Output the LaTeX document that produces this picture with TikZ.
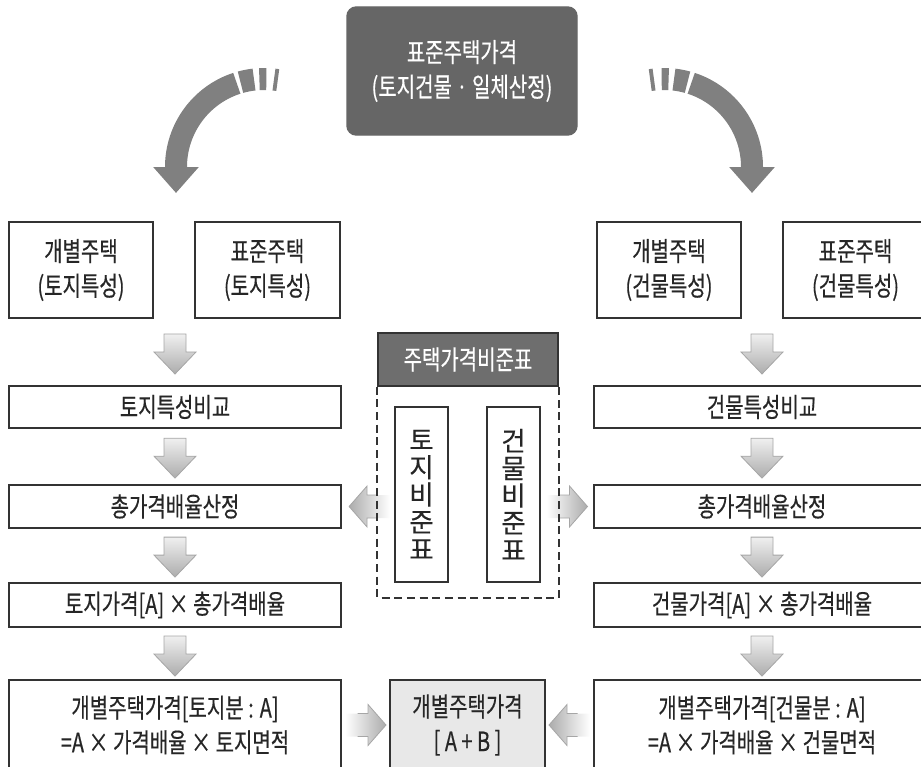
\documentclass[tikz,border=0pt]{standalone}
\usepackage{fontspec}
\setmainfont{Noto Sans CJK KR}[FakeStretch=0.75, FakeBold=0.4]
\newfontfamily\vkr{Noto Sans CJK KR}[FakeBold=0.2]
\usetikzlibrary{arrows.meta}

\definecolor{darkfill}{HTML}{666666}
\definecolor{hdrfill}{HTML}{6E6E6E}
\definecolor{bendgray}{HTML}{808080}
\definecolor{sumfill}{HTML}{E8E8E8}

\tikzset{
  box/.style={draw=black!80, line width=1.1pt, fill=white, inner sep=0pt, align=center,
    text=black!85, font=\fontsize{20}{26}\selectfont},
  darkbox/.style={box, fill=darkfill, draw=darkfill, text=white, rounded corners=7pt},
  hdrbox/.style={box, fill=hdrfill, text=white},
  vbox/.style={box, font=\vkr\fontsize{20}{20.5}\selectfont},
  frame/.style={draw=black!80, line width=1.2pt, dash pattern=on 6pt off 3.5pt},
  curvearr/.style={draw=bendgray, line width=16.5pt, -{Triangle[width=33pt,length=19.5pt]}},
  curvecut/.style={draw=bendgray, line width=16.5pt},
  darr/.pic={
    \shade[top color=gray!12, bottom color=gray!65, draw=gray!70, line width=0.6pt]
      (-11,-20) -- (11,-20) -- (11,-2) -- (21,-2) -- (0,20) -- (-21,-2) -- (-11,-2) -- cycle;
  },
  rarr/.pic={
    \shade[left color=white, right color=gray!65]
      (-20.5,-11.5) -- (2.5,-11.5) -- (2.5,-20.5) -- (20.5,0) -- (2.5,20.5) -- (2.5,11.5) -- (-20.5,11.5) -- cycle;
    \draw[gray!70, line width=0.6pt]
      (-8,-11.5) -- (2.5,-11.5) -- (2.5,-20.5) -- (20.5,0) -- (2.5,20.5) -- (2.5,11.5) -- (-8,11.5);
  },
  larr/.pic={
    \shade[left color=gray!65, right color=white]
      (20.5,-11.5) -- (-2.5,-11.5) -- (-2.5,-20.5) -- (-20.5,0) -- (-2.5,20.5) -- (-2.5,11.5) -- (20.5,11.5) -- cycle;
    \draw[gray!70, line width=0.6pt]
      (8,-11.5) -- (-2.5,-11.5) -- (-2.5,-20.5) -- (-20.5,0) -- (-2.5,20.5) -- (-2.5,11.5) -- (8,11.5);
  }
}

\begin{document}
\begin{tikzpicture}[x=0.75pt, y=-0.75pt]
    \useasboundingbox (0,0) rectangle (921,767);
    \clip (0,0) rectangle (921,767);

    % 표준주택가격
    \node[darkbox, minimum width=230*0.75pt, minimum height=128*0.75pt] (top) at (462,71)
      {표준주택가격\\(토지건물 · 일체산정)};

    % 굽은 화살표
    \draw[curvearr] (264,167) ++(252:88) arc[start angle=252, end angle=180, radius=88] -- ++(0,26);
    \draw[curvecut] (264,167) ++(254.5:88) arc[start angle=254.5, end angle=263.5, radius=88];
    \draw[curvecut] (264,167) ++(267:88) arc[start angle=267, end angle=271.5, radius=88];
    \draw[curvecut] (264,167) ++(276.5:88) arc[start angle=276.5, end angle=279, radius=88];
    \draw[curvearr] (664,167) ++(288:88) arc[start angle=288, end angle=360, radius=88] -- ++(0,26);
    \draw[curvecut] (664,167) ++(285.5:88) arc[start angle=285.5, end angle=276.5, radius=88];
    \draw[curvecut] (664,167) ++(273:88) arc[start angle=273, end angle=268.5, radius=88];
    \draw[curvecut] (664,167) ++(263.5:88) arc[start angle=263.5, end angle=261, radius=88];

    % 토지 쪽
    \node[box, minimum width=144*0.75pt, minimum height=96*0.75pt] (lgae) at (81,270) {개별주택\\(토지특성)};
    \node[box, minimum width=145*0.75pt, minimum height=96*0.75pt] (lpyo) at (267.5,270) {표준주택\\(토지특성)};
    \node[box, minimum width=332*0.75pt, minimum height=42*0.75pt] (lcmp) at (175,407) {토지특성비교};
    \node[box, minimum width=332*0.75pt, minimum height=43*0.75pt] (lbae) at (175,506.5) {총가격배율산정};
    \node[box, minimum width=332*0.75pt, minimum height=44*0.75pt] (lgap) at (175,605) {토지가격[A] × 총가격배율};
    \node[box, minimum width=332*0.75pt, minimum height=90*0.75pt] (lres) at (175,725)
      {개별주택가격[토지분 : A]\\=A × 가격배율 × 토지면적};

    % 건물 쪽
    \node[box, minimum width=144*0.75pt, minimum height=96*0.75pt] (rgae) at (669,270) {개별주택\\(건물특성)};
    \node[box, minimum width=145*0.75pt, minimum height=96*0.75pt] (rpyo) at (855.5,270) {표준주택\\(건물특성)};
    \node[box, minimum width=336*0.75pt, minimum height=42*0.75pt] (rcmp) at (762,407) {건물특성비교};
    \node[box, minimum width=336*0.75pt, minimum height=43*0.75pt] (rbae) at (762,506.5) {총가격배율산정};
    \node[box, minimum width=336*0.75pt, minimum height=44*0.75pt] (rgap) at (762,605) {건물가격[A] × 총가격배율};
    \node[box, minimum width=336*0.75pt, minimum height=90*0.75pt] (rres) at (762,725)
      {개별주택가격[건물분 : A]\\=A × 가격배율 × 건물면적};

    % 합계
    \node[box, fill=sumfill, minimum width=155*0.75pt, minimum height=90*0.75pt] (sum) at (467.5,725)
      {개별주택가격\\{[}\,A\,+\,B\,{]}};

    % 주택가격비준표
    \node[hdrbox, minimum width=180*0.75pt, minimum height=53*0.75pt] (bijun) at (468,359.5) {주택가격비준표};
    \node[vbox, minimum width=53*0.75pt, minimum height=175*0.75pt] (lbi) at (421.5,494.5) {토\\지\\비\\준\\표};
    \node[vbox, minimum width=53*0.75pt, minimum height=175*0.75pt] (rbi) at (513.5,494.5) {건\\물\\비\\준\\표};

    % 블록 화살표
    \path (lcmp.north |- lgae.south) -- (lcmp.north) pic[pos=0.53] {darr};
    \path (lcmp.south) -- (lbae.north) pic[pos=0.53] {darr};
    \path (lbae.south) -- (lgap.north) pic[pos=0.53] {darr};
    \path (lgap.south) -- (lres.north) pic[pos=0.55] {darr};
    \path (rcmp.north |- rgae.south) -- (rcmp.north) pic[pos=0.53] {darr};
    \path (rcmp.south) -- (rbae.north) pic[pos=0.53] {darr};
    \path (rbae.south) -- (rgap.north) pic[pos=0.53] {darr};
    \path (rgap.south) -- (rres.north) pic[pos=0.55] {darr};
    \path (lbi.west |- lbae.east) -- (lbae.east) pic[pos=0.47] {larr};
    \path (rbi.east |- rbae.west) -- (rbae.west) pic[pos=0.5] {rarr};
    \path (lres.east |- sum.west) -- (sum.west) pic[pos=0.5] {rarr};
    \path (sum.east) -- (rres.west |- sum.east) pic[pos=0.5] {larr};

    % 점선 틀
    \draw[frame] (bijun.south west) -- ++(0,211) -| (bijun.south east);
\end{tikzpicture}
\end{document}
